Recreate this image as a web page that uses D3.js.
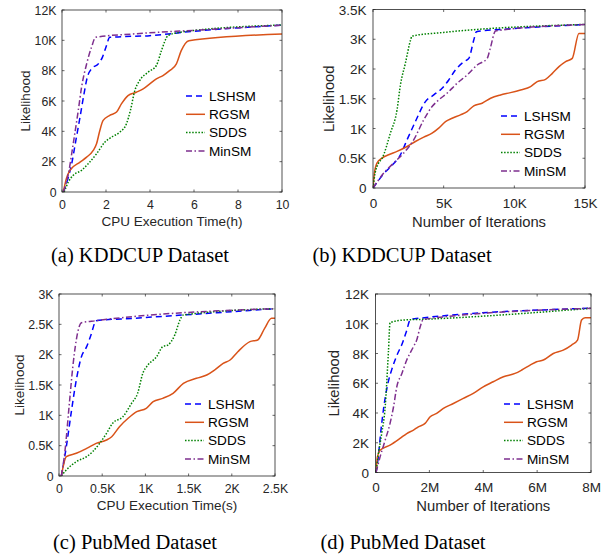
<!DOCTYPE html>
<html><head><meta charset="utf-8">
<script src="https://cdn.jsdelivr.net/npm/d3@7"></script>
<style>html,body{margin:0;padding:0;background:#fff;}svg{display:block;}</style>
</head><body>
<script>
// ---------- DATA ----------
const seriesNames = ["LSHSM", "RGSM", "SDDS", "MinSM"];

// (a) KDDCUP, x = CPU time (h)
const a_xTicks = [0, 2, 4, 6, 8, 10];
const a_xTickLabels = ["0", "2", "4", "6", "8", "10"];
const a_yTicks = [0, 2000, 4000, 6000, 8000, 10000, 12000];
const a_yTickLabels = ["0", "2K", "4K", "6K", "8K", "10K", "12K"];
const a_LSHSM = [[0.06,0],[0.29,990],[0.44,1860],[0.63,3400],[0.82,4940],[1.0,6470],[1.15,7570],[1.34,8120],[1.65,8450],[1.84,8890],[2.02,9650],[2.17,10200],[3.99,10310],[6,10600],[10,11000]];
const a_RGSM = [[0.06,0],[0.2,900],[0.36,1430],[0.82,1970],[1.12,2300],[1.42,2740],[1.57,3180],[1.72,4060],[1.87,4720],[2.17,5050],[2.48,5270],[2.7,5810],[3.0,6360],[3.38,6580],[3.69,6800],[3.99,7130],[4.29,7460],[4.59,7680],[4.89,8000],[5.2,8450],[5.42,9320],[5.77,9980],[10,10420]];
const a_SDDS = [[0.1,0],[0.29,660],[0.51,1100],[0.89,1430],[1.19,1860],[1.57,2520],[1.95,3290],[2.25,3620],[2.63,3950],[2.93,4500],[3.11,5380],[3.31,6690],[3.53,7350],[3.91,7900],[4.29,8340],[4.52,9320],[4.82,10310],[5.35,10530],[10,11010]];
const a_MinSM = [[0.06,0],[0.29,1200],[0.51,3180],[0.74,5380],[0.89,6910],[1.12,8450],[1.34,9540],[1.53,10200],[3.23,10420],[6.25,10680],[10,11000]];

// (b) KDDCUP, x = number of iterations
const b_xTicks = [0, 5000, 10000, 15000];
const b_xTickLabels = ["0", "5K", "10K", "15K"];
const b_yTicks = [0, 500, 1000, 1500, 2000, 2500, 3000];
const b_yTickLabels = ["0", "0.5K", "1K", "1.5K", "2K", "3K", "3.5K"];
const b_LSHSM = [[0,0],[800,250],[1500,420],[1900,540],[2410,810],[3000,1117],[3710,1452],[4300,1564],[4890,1676],[5360,1816],[5830,1983],[6430,2123],[6780,2179],[7130,2486],[7320,2626],[10000,2680],[15000,2749]];
const b_RGSM = [[0,0],[100,251],[280,419],[640,503],[1110,559],[1700,615],[2410,698],[3000,782],[3590,855],[4180,922],[4650,1006],[5130,1117],[5600,1173],[6190,1229],[6660,1285],[7130,1380],[7720,1425],[8320,1508],[9020,1564],[9730,1603],[10440,1648],[11150,1704],[11620,1788],[12210,1827],[12690,1927],[13160,2039],[13630,2123],[14100,2179],[14570,2598],[15000,2598]];
const b_SDDS = [[0,0],[150,250],[400,420],[640,497],[1230,922],[1700,1313],[1940,1732],[2290,2095],[2650,2480],[2760,2553],[5000,2615],[15000,2749]];
const b_MinSM = [[0,0],[760,251],[1460,419],[2170,587],[2880,810],[3590,1145],[4180,1369],[4650,1480],[5240,1592],[5950,1760],[6660,1899],[7370,2067],[8080,2179],[8300,2350],[8670,2640],[15000,2749]];

// (c) PubMed, x = CPU time (s)
const c_xTicks = [0, 500, 1000, 1500, 2000, 2500];
const c_xTickLabels = ["0", "0.5K", "1K", "1.5K", "2K", "2.5K"];
const c_yTicks = [0, 500, 1000, 1500, 2000, 2500, 3000];
const c_yTickLabels = ["0", "0.5K", "1K", "1.5K", "2K", "2.5K", "3K"];
const c_LSHSM = [[27,0],[85,484],[140,1033],[200,1582],[260,1967],[320,2132],[370,2324],[430,2560],[860,2599],[1440,2654],[2500,2758]];
const c_RGSM = [[27,0],[85,319],[200,374],[320,456],[430,538],[550,593],[610,648],[700,813],[800,951],[900,1060],[1010,1115],[1090,1225],[1200,1280],[1320,1363],[1440,1527],[1590,1610],[1710,1665],[1800,1747],[1900,1857],[1980,1912],[2070,2049],[2210,2214],[2300,2242],[2380,2434],[2460,2599],[2500,2599]];
const c_SDDS = [[27,0],[85,99],[200,236],[320,319],[390,401],[470,538],[550,703],[620,868],[740,978],[840,1198],[910,1363],[970,1692],[1030,1830],[1130,1967],[1200,2132],[1260,2159],[1340,2324],[1400,2571],[1440,2654],[2500,2758]];
const c_MinSM = [[27,0],[66,374],[120,1198],[160,1802],[200,2242],[260,2527],[430,2560],[2500,2758]];

// (d) PubMed, x = number of iterations (millions)
const d_xTicks = [0, 2, 4, 6, 8];
const d_xTickLabels = ["0", "2M", "4M", "6M", "8M"];
const d_yTicks = [0, 2000, 4000, 6000, 8000, 10000, 12000];
const d_yTickLabels = ["0", "2K", "4K", "6K", "8K", "10K", "12K"];
const d_LSHSM = [[0.02,0],[0.1,1000],[0.2,2800],[0.3,4300],[0.45,5900],[0.6,6900],[0.8,7900],[1.0,8700],[1.15,9500],[1.3,10300],[8,11040]];
const d_RGSM = [[0.02,0],[0.07,1050],[0.17,1500],[0.54,1840],[0.91,2290],[1.16,2620],[1.41,2850],[1.59,3070],[1.84,3300],[2.03,3750],[2.27,3970],[2.52,4310],[2.89,4640],[3.26,4980],[3.63,5320],[4.0,5760],[4.37,6100],[4.75,6440],[5.18,6660],[5.43,6890],[5.74,7220],[5.98,7450],[6.23,7560],[6.6,8000],[6.97,8230],[7.28,8570],[7.5,8900],[7.65,10250],[7.78,10400],[8,10400]];
const d_SDDS = [[0.02,0],[0.11,1280],[0.23,2620],[0.36,4420],[0.48,8120],[0.54,10070],[1.04,10250],[1.78,10300],[8,11040]];
const d_MinSM = [[0.02,0],[0.17,1050],[0.36,2180],[0.54,3300],[0.67,4420],[0.79,5760],[0.98,6660],[1.16,7560],[1.41,8460],[1.53,8900],[1.66,9800],[1.78,10300],[8,11040]];

// ---------- STYLE ----------
const styles = {
  LSHSM: {color:"#0000FF", dash:"6,4"},
  RGSM:  {color:"#D95319", dash:null},
  SDDS:  {color:"#008000", dash:"1.5,1.6"},
  MinSM: {color:"#7E2F8E", dash:"6,2.5,1.5,2.5"}
};
const axisColor = "#262626";
const sans = "'Liberation Sans', Arial, Helvetica, sans-serif";
const serif = "'Liberation Serif', 'Times New Roman', serif";

const panels = [
  {box:{l:62,r:282,t:10,b:192}, xDom:[0,10], yDom:[0,12000], xT:a_xTicks, xL:a_xTickLabels, yT:a_yTicks, yL:a_yTickLabels,
   data:{LSHSM:a_LSHSM,RGSM:a_RGSM,SDDS:a_SDDS,MinSM:a_MinSM}, tf:12.3, lf:13.5,
   xTitle:"CPU Execution Time(h)", xTitleY:225.5, yTitleX:30, leg:{x:186,y:96},
   cap:"(a) KDDCUP Dataset", capX:140, capY:262},
  {box:{l:373,r:585,t:9.5,b:188}, xDom:[0,15000], yDom:[0,3000], xT:b_xTicks, xL:b_xTickLabels, yT:b_yTicks, yL:b_yTickLabels,
   data:{LSHSM:b_LSHSM,RGSM:b_RGSM,SDDS:b_SDDS,MinSM:b_MinSM}, tf:13.5, lf:14.8,
   xTitle:"Number of Iterations", xTitleY:226.5, yTitleX:334, leg:{x:501,y:116},
   cap:"(b) KDDCUP Dataset", capX:402, capY:262},
  {box:{l:59,r:275,t:294,b:476}, xDom:[0,2500], yDom:[0,3000], xT:c_xTicks, xL:c_xTickLabels, yT:c_yTicks, yL:c_yTickLabels,
   data:{LSHSM:c_LSHSM,RGSM:c_RGSM,SDDS:c_SDDS,MinSM:c_MinSM}, tf:12.3, lf:13.5,
   xTitle:"CPU Execution Time(s)", xTitleY:510, yTitleX:24, leg:{x:185,y:404},
   cap:"(c) PubMed Dataset", capX:135, capY:549},
  {box:{l:375.5,r:591,t:294,b:472.5}, xDom:[0,8], yDom:[0,12000], xT:d_xTicks, xL:d_xTickLabels, yT:d_yTicks, yL:d_yTickLabels,
   data:{LSHSM:d_LSHSM,RGSM:d_RGSM,SDDS:d_SDDS,MinSM:d_MinSM}, tf:13.5, lf:14.8,
   xTitle:"Number of Iterations", xTitleY:511, yTitleX:339, leg:{x:504,y:404},
   cap:"(d) PubMed Dataset", capX:403, capY:549}
];

const svg = d3.select("body").append("svg").attr("width",605).attr("height",554);

panels.forEach((p,i) => {
  const b = p.box;
  const x = d3.scaleLinear().domain(p.xDom).range([b.l,b.r]);
  const y = d3.scaleLinear().domain(p.yDom).range([b.b,b.t]);
  const g = svg.append("g");
  const clipId = "clip"+i;
  svg.append("clipPath").attr("id",clipId).append("rect")
    .attr("x",b.l).attr("y",b.t-1).attr("width",b.r-b.l).attr("height",b.b-b.t+1);

  // lines
  const line = d3.line().x(d=>x(d[0])).y(d=>y(d[1])).curve(d3.curveMonotoneX);
  const lg = g.append("g").attr("clip-path",`url(#${clipId})`);
  seriesNames.forEach(n => {
    const s = styles[n];
    lg.append("path").datum(p.data[n]).attr("d",line)
      .attr("fill","none").attr("stroke",s.color).attr("stroke-width",1.5)
      .attr("stroke-dasharray",s.dash).attr("stroke-linejoin","round");
  });

  // axes (inward ticks, box)
  const tl = 2.5;
  const xAxis = d3.axisBottom(x).tickValues(p.xT).tickSize(0).tickPadding(0)
    .tickFormat((d,k)=>p.xL[k]);
  const yAxis = d3.axisLeft(y).tickValues(p.yT).tickSize(0).tickPadding(0)
    .tickFormat((d,k)=>p.yL[k]);
  const gx = g.append("g").attr("transform",`translate(0,${b.b})`).call(xAxis);
  gx.select(".domain").remove();
  gx.selectAll("text").attr("dy",null).attr("y", p.tf*1.33 + (i%2? 2:1))
    .attr("font-family",sans).attr("font-size",p.tf).attr("fill",axisColor);
  const gy = g.append("g").attr("transform",`translate(${b.l},0)`).call(yAxis);
  gy.select(".domain").remove();
  gy.selectAll("text").attr("x", i%2? -6.5:-5.5).attr("dy","0.35em")
    .attr("font-family",sans).attr("font-size",p.tf).attr("fill",axisColor);
  g.selectAll(".tick line").remove();

  const tk = g.append("g").attr("stroke",axisColor).attr("stroke-width",0.7);
  p.xT.forEach(v => {
    tk.append("line").attr("x1",x(v)).attr("x2",x(v)).attr("y1",b.b).attr("y2",b.b-tl);
    tk.append("line").attr("x1",x(v)).attr("x2",x(v)).attr("y1",b.t).attr("y2",b.t+tl);
  });
  p.yT.forEach(v => {
    tk.append("line").attr("y1",y(v)).attr("y2",y(v)).attr("x1",b.l).attr("x2",b.l+tl);
    tk.append("line").attr("y1",y(v)).attr("y2",y(v)).attr("x1",b.r).attr("x2",b.r-tl);
  });
  g.append("rect").attr("x",b.l).attr("y",b.t).attr("width",b.r-b.l).attr("height",b.b-b.t)
    .attr("fill","none").attr("stroke",axisColor).attr("stroke-width",0.8);

  // titles
  g.append("text").attr("x",(b.l+b.r)/2).attr("y",p.xTitleY).attr("text-anchor","middle")
    .attr("font-family",sans).attr("font-size",p.lf).attr("fill",axisColor).text(p.xTitle);
  g.append("text").attr("transform",`translate(${p.yTitleX},${(b.t+b.b)/2}) rotate(-90)`)
    .attr("text-anchor","middle").attr("font-family",sans).attr("font-size",p.lf)
    .attr("fill",axisColor).text("Likelihood");

  // legend
  const leg = g.append("g");
  seriesNames.forEach((n,k) => {
    const s = styles[n];
    const yy = p.leg.y + k*18.3;
    leg.append("line").attr("x1",p.leg.x).attr("x2",p.leg.x+19).attr("y1",yy).attr("y2",yy)
      .attr("stroke",s.color).attr("stroke-width",1.5).attr("stroke-dasharray",s.dash);
    leg.append("text").attr("x",p.leg.x+23).attr("y",yy).attr("dy","0.36em")
      .attr("font-family",sans).attr("font-size",13.6).attr("fill","#000").text(n);
  });

  // caption
  svg.append("text").attr("x",p.capX).attr("y",p.capY).attr("text-anchor","middle")
    .attr("font-family",serif).attr("font-size",20.5).attr("fill","#000").text(p.cap);
});
</script>
</body></html>
